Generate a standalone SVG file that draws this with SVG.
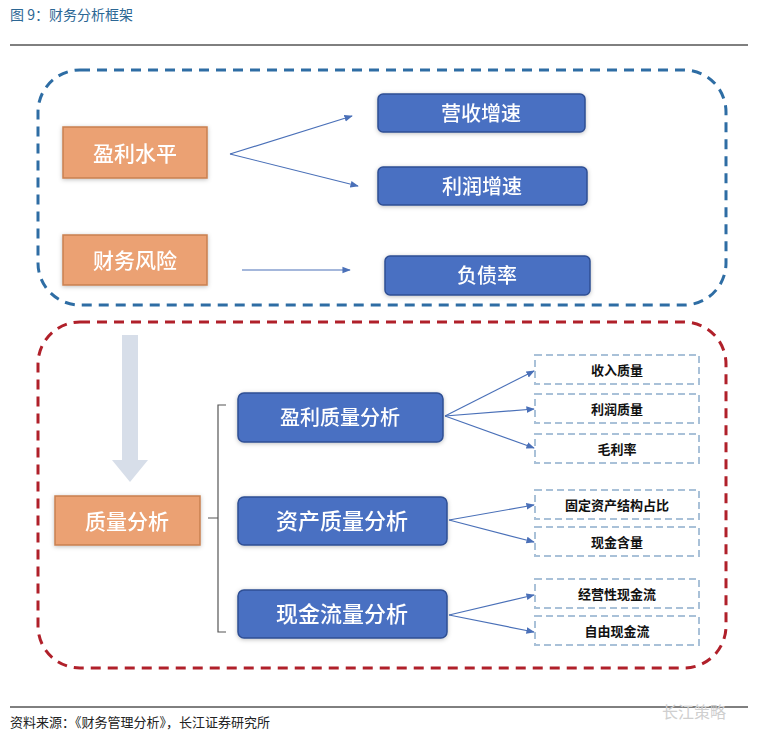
<svg xmlns="http://www.w3.org/2000/svg" width="762" height="746" viewBox="0 0 762 746">
<defs>
<style>
text{font-family:"Noto Sans CJK SC","Liberation Sans",sans-serif;}
.or{fill:#eba173;stroke:#c98050;stroke-width:1.5}
.bl{fill:#4a70c2;stroke:#2f4f94;stroke-width:1.5}
.sm{fill:#fff;stroke:#a9c1d8;stroke-width:2;stroke-dasharray:7 4}
.wt{fill:#fff;text-anchor:middle;font-weight:500}
.bk{fill:#111;text-anchor:middle;font-size:13px;font-weight:bold}
.ln{stroke:#4a70b8;stroke-width:1.2;fill:none;marker-end:url(#ah)}
</style>
<marker id="ah" viewBox="0 0 10 10" refX="9" refY="5" markerWidth="7" markerHeight="7" orient="auto"><path d="M0,1 L10,5 L0,9 z" fill="#4a70b8"/></marker>
<filter id="sh" x="-10%" y="-20%" width="120%" height="140%"><feDropShadow dx="0" dy="1" stdDeviation="2" flood-color="#000" flood-opacity="0.25"/></filter>
</defs>
<rect width="762" height="746" fill="#fff"/>
<text x="10" y="20" font-size="14" fill="#2c6794">图 9：财务分析框架</text>
<line x1="10" y1="45" x2="748" y2="45" stroke="#000" stroke-width="1"/>
<rect x="38" y="70" width="688" height="235" rx="42" fill="none" stroke="#2e6da4" stroke-width="3" stroke-dasharray="10 7"/>
<rect x="38" y="322" width="688" height="346" rx="42" fill="none" stroke="#b0202a" stroke-width="3" stroke-dasharray="10 7"/>
<path d="M122,335 H138 V460 H148 L130,482 L112,460 H122 Z" fill="#d7dee9"/>
<g id="connectors">
<path class="ln" d="M230,154 L352,116"/>
<path class="ln" d="M230,154 L358,186"/>
<path class="ln" d="M242,270 L350,270"/>
<path d="M226,405 H218 V632 H226 M218,518 H208" stroke="#555" stroke-width="1.2" fill="none"/>
<path class="ln" d="M445,416 L534,371"/>
<path class="ln" d="M445,416 L534,409"/>
<path class="ln" d="M445,416 L534,448"/>
<path class="ln" d="M449,520 L534,505"/>
<path class="ln" d="M449,520 L534,542"/>
<path class="ln" d="M449,615 L534,595"/>
<path class="ln" d="M449,615 L534,632"/>
</g>
<g id="n1" filter="url(#sh)"><rect class="or" x="63" y="127" width="144" height="51"/><text class="wt" x="135" y="161" font-size="21">盈利水平</text></g>
<g id="n2" filter="url(#sh)"><rect class="or" x="63" y="235" width="144" height="50"/><text class="wt" x="135" y="268" font-size="21">财务风险</text></g>
<g id="n3" filter="url(#sh)"><rect class="bl" x="378" y="94" width="207" height="38" rx="5"/><text class="wt" x="481" y="121" font-size="20">营收增速</text></g>
<g id="n4" filter="url(#sh)"><rect class="bl" x="378" y="167" width="209" height="38" rx="5"/><text class="wt" x="482" y="194" font-size="20">利润增速</text></g>
<g id="n5" filter="url(#sh)"><rect class="bl" x="385" y="256" width="205" height="39" rx="5"/><text class="wt" x="487" y="283" font-size="20">负债率</text></g>
<g id="n6" filter="url(#sh)"><rect class="or" x="55" y="496" width="145" height="49"/><text class="wt" x="127" y="529" font-size="21">质量分析</text></g>
<g id="n7" filter="url(#sh)"><rect class="bl" x="238" y="393" width="205" height="49" rx="6"/><text class="wt" x="340" y="425" font-size="20">盈利质量分析</text></g>
<g id="n8" filter="url(#sh)"><rect class="bl" x="238" y="497" width="209" height="48" rx="6"/><text class="wt" x="342" y="529" font-size="22">资产质量分析</text></g>
<g id="n9" filter="url(#sh)"><rect class="bl" x="238" y="590" width="209" height="48" rx="6"/><text class="wt" x="342" y="622" font-size="22">现金流量分析</text></g>
<g id="s1"><rect class="sm" x="535" y="355" width="164" height="29"/><text class="bk" x="617" y="375">收入质量</text></g>
<g id="s2"><rect class="sm" x="535" y="394" width="164" height="29"/><text class="bk" x="617" y="414">利润质量</text></g>
<g id="s3"><rect class="sm" x="535" y="434" width="164" height="29"/><text class="bk" x="617" y="454">毛利率</text></g>
<g id="s4"><rect class="sm" x="535" y="490" width="164" height="29"/><text class="bk" x="617" y="510">固定资产结构占比</text></g>
<g id="s5"><rect class="sm" x="535" y="527" width="164" height="29"/><text class="bk" x="617" y="547">现金含量</text></g>
<g id="s6"><rect class="sm" x="535" y="579" width="164" height="29"/><text class="bk" x="617" y="599">经营性现金流</text></g>
<g id="s7"><rect class="sm" x="535" y="616" width="164" height="29"/><text class="bk" x="617" y="636">自由现金流</text></g>
<line x1="10" y1="707" x2="748" y2="707" stroke="#000" stroke-width="1"/>
<text x="10" y="727" font-size="13" fill="#222">资料来源：《财务管理分析》，长江证券研究所</text>
<text x="662" y="718" font-size="16" fill="#cfcfcf">长江策略</text>
</svg>
